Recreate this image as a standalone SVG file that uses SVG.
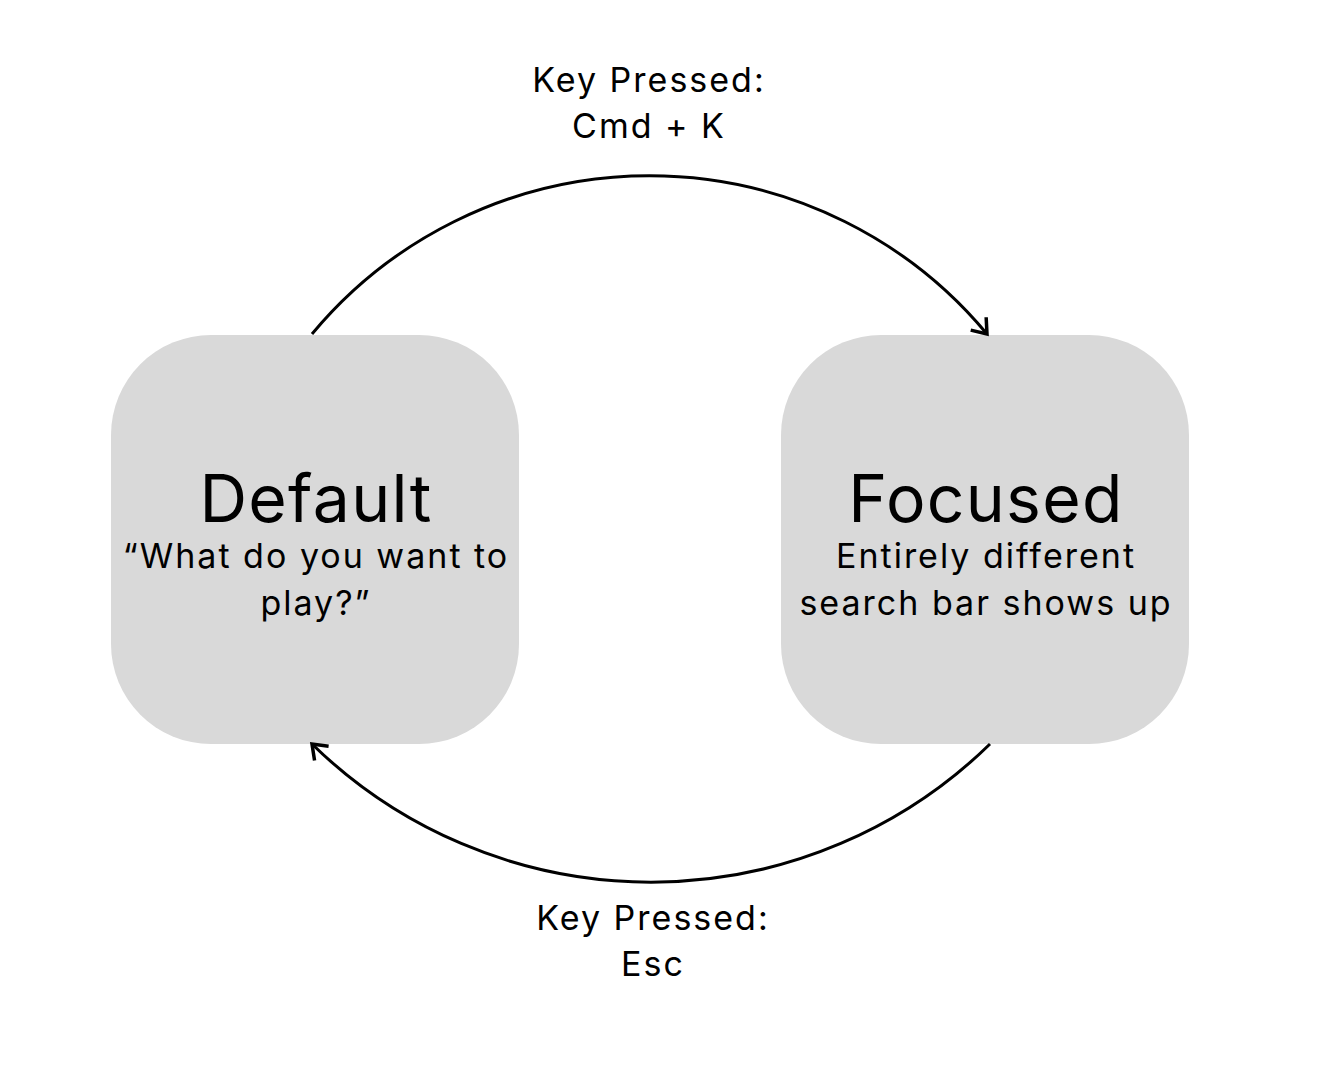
<svg xmlns="http://www.w3.org/2000/svg" width="1324" height="1082" viewBox="0 0 1324 1082">
<style>
.box{fill:#d9d9d9}
.t{font-family:Inter,"Noto Sans",sans-serif;fill:#000;text-anchor:middle}
.title{font-size:66px;letter-spacing:1.3px}
.sub{font-size:34px;letter-spacing:2px}
.lbl{font-size:34px;letter-spacing:2px}
.edge{fill:none;stroke:#000;stroke-width:3}
</style>
<defs>
<marker id="arr" viewBox="0 0 24 24" refX="17" refY="12" markerWidth="24" markerHeight="24" markerUnits="userSpaceOnUse" orient="auto">
<polyline points="5,3 17,12 5,21" fill="none" stroke="#000" stroke-width="3.5" stroke-linecap="square" stroke-linejoin="miter"/>
</marker>
</defs>
<rect width="1324" height="1082" fill="#fff"/>
<g id="default">
<rect class="box" x="111" y="335" width="408" height="409" rx="100"/>
<text class="t title" x="316" y="522">Default</text>
<text class="t sub" x="316" y="568">“What do you want to</text>
<text class="t sub" x="316" y="615">play?”</text>
</g>
<g id="focused">
<rect class="box" x="781" y="335" width="408" height="409" rx="100"/>
<text class="t title" x="986" y="522">Focused</text>
<text class="t sub" x="986" y="568">Entirely different</text>
<text class="t sub" x="986" y="615">search bar shows up</text>
</g>
<g id="connectors">
<path class="edge" d="M312 334 A 439 439 0 0 1 987 334" marker-end="url(#arr)"/>
<path class="edge" d="M990 744 A 485 485 0 0 1 312 744" marker-end="url(#arr)"/>
<text class="t lbl" x="649" y="92">Key Pressed:</text>
<text class="t lbl" x="649" y="138">Cmd + K</text>
<text class="t lbl" x="653" y="930">Key Pressed:</text>
<text class="t lbl" x="653" y="976">Esc</text>
</g>
</svg>
